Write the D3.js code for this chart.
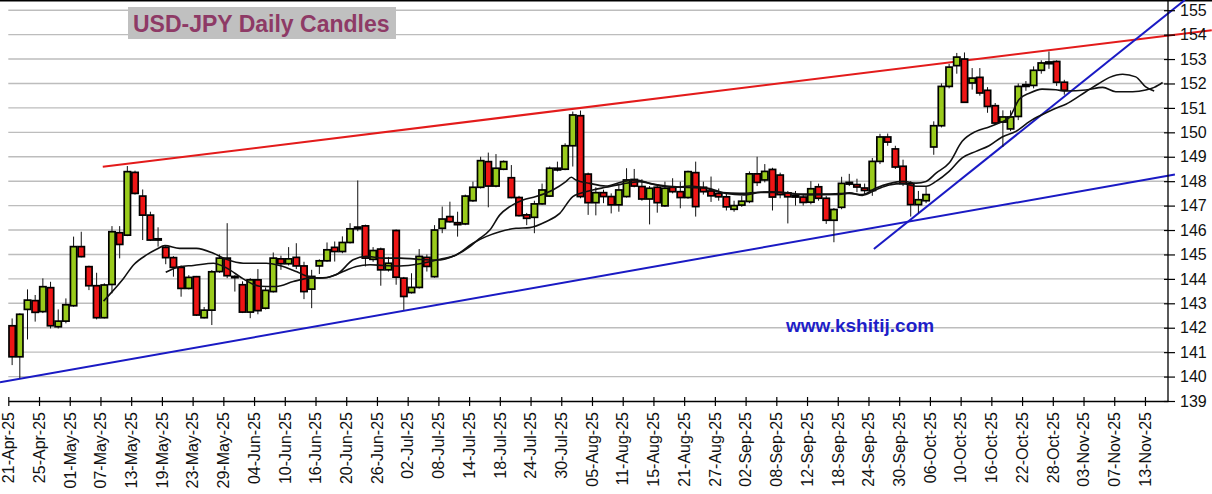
<!DOCTYPE html>
<html><head><meta charset="utf-8">
<script src="https://cdn.jsdelivr.net/npm/d3@7"></script>
<style>
html,body{margin:0;padding:0;background:#fff;}
svg{display:block;font-family:"Liberation Sans",Arial,sans-serif;}
</style></head>
<body>
<svg id="c" width="1212" height="494"></svg>
<script>
// ---------- DATA ----------
const tickLabels = ["21-Apr-25","25-Apr-25","01-May-25","07-May-25","13-May-25","19-May-25","23-May-25","29-May-25","04-Jun-25","10-Jun-25","16-Jun-25","20-Jun-25","26-Jun-25","02-Jul-25","08-Jul-25","14-Jul-25","18-Jul-25","24-Jul-25","30-Jul-25","05-Aug-25","11-Aug-25","15-Aug-25","21-Aug-25","27-Aug-25","02-Sep-25","08-Sep-25","12-Sep-25","18-Sep-25","24-Sep-25","30-Sep-25","06-Oct-25","10-Oct-25","16-Oct-25","22-Oct-25","28-Oct-25","03-Nov-25","07-Nov-25","13-Nov-25"];
const tickIndex = [0,4,8,12,16,20,24,28,32,36,40,44,48,52,56,60,64,68,72,76,80,84,88,92,96,100,104,108,112,116,120,124,128,132,136,140,144,148];
const priceTicks = [139,140,141,142,143,144,145,146,147,148,149,150,151,152,153,154,155];

const opens  = [142.08,140.81,142.75,143.11,142.66,143.64,142.04,142.27,142.90,145.32,144.50,143.72,142.41,143.77,145.89,145.79,148.36,147.39,146.61,145.64,145.29,144.87,144.47,143.61,144.09,142.41,142.72,144.30,144.85,144.10,143.76,142.64,143.96,142.80,143.48,144.82,144.62,144.88,144.53,143.58,144.53,144.74,145.29,145.12,145.49,146.05,146.17,144.80,145.22,144.37,145.98,144.03,143.44,143.65,144.88,144.09,146.07,146.55,146.30,146.25,147.20,147.75,148.80,147.80,148.49,148.14,147.33,146.62,146.52,147.07,147.39,148.46,148.49,149.45,150.68,148.29,147.12,147.53,147.37,147.03,147.37,148.07,147.78,147.27,147.75,146.99,147.75,147.57,147.33,148.35,147.75,147.60,147.50,147.36,146.85,147.02,147.17,148.30,148.05,148.48,148.25,147.52,147.42,147.35,147.14,147.77,147.30,146.40,146.93,147.88,147.86,147.72,147.62,148.81,149.81,149.32,148.61,147.90,147.04,147.20,149.40,150.27,151.88,152.73,153.00,152.02,152.25,151.72,151.09,150.42,150.14,150.65,151.88,151.92,152.54,152.81,152.90,152.05];
const highs  = [142.38,142.59,143.57,143.34,144.02,143.88,142.75,143.20,145.73,145.93,144.54,144.25,143.82,146.16,146.16,148.62,148.43,147.66,146.75,146.11,145.38,144.93,144.55,144.15,144.12,142.85,144.36,145.00,146.28,144.15,143.90,144.03,144.40,143.65,145.08,144.95,145.30,145.46,144.70,144.37,144.80,145.49,145.53,145.74,146.28,148.03,146.22,145.30,145.28,144.90,146.02,144.08,144.23,145.22,145.00,146.20,146.96,147.16,146.75,147.45,147.98,149.00,149.17,149.11,148.85,148.66,147.40,146.70,147.20,147.90,148.60,148.80,149.55,150.85,150.89,148.35,147.75,147.65,147.50,147.84,148.53,148.50,148.08,147.80,147.80,147.98,148.12,147.98,148.43,148.80,147.98,148.19,147.70,147.50,147.20,147.40,148.40,149.00,148.70,148.55,148.35,147.60,147.60,147.45,148.00,147.90,147.40,146.90,148.18,148.30,148.10,147.90,148.95,149.94,149.95,149.45,148.88,148.00,147.60,147.79,150.45,152.00,152.80,153.25,153.27,152.63,152.63,151.85,151.20,150.90,150.90,152.00,152.10,152.70,152.95,153.31,152.95,152.15];
const lows   = [140.47,139.93,141.52,142.25,142.60,141.97,141.97,142.18,142.86,144.88,143.54,142.34,142.38,143.41,144.84,145.75,147.45,145.59,145.55,145.32,144.60,144.09,143.27,143.57,142.48,142.38,142.11,144.25,144.03,143.48,142.60,142.39,142.55,142.75,143.44,144.37,144.55,144.40,143.17,142.80,144.20,144.70,144.71,145.05,145.45,145.95,144.51,144.70,143.72,144.30,143.76,142.73,143.40,143.60,144.30,144.05,145.87,146.30,145.73,146.20,147.15,147.70,146.93,147.75,148.45,147.30,146.55,146.20,145.87,147.03,147.35,148.40,148.45,148.60,147.30,146.62,146.60,147.10,146.68,146.75,147.33,147.75,147.20,146.23,146.71,146.95,147.50,146.89,147.28,146.55,147.45,147.15,147.20,146.80,146.75,146.95,147.10,147.80,147.95,146.80,147.30,146.27,147.00,147.00,147.05,147.20,146.25,145.50,146.85,147.80,147.55,147.45,147.40,148.70,149.45,148.50,147.80,146.55,146.70,147.10,149.08,150.20,151.80,152.40,151.20,151.75,151.50,150.80,150.30,149.40,150.05,150.50,151.70,151.80,152.40,152.60,151.90,151.54];
const closes = [140.81,142.55,143.13,142.63,143.68,142.08,142.27,142.94,145.32,144.91,143.72,142.41,143.75,145.93,145.41,148.39,147.50,146.61,145.59,145.59,144.87,144.47,143.61,144.06,142.52,142.72,144.29,144.85,144.13,144.05,142.64,143.96,142.70,143.53,144.85,144.62,144.82,144.53,143.48,144.10,144.74,145.19,145.12,145.49,146.05,146.12,144.85,145.16,144.37,144.64,144.07,143.28,143.65,144.92,144.51,146.00,146.45,146.34,146.22,147.39,147.75,148.84,147.80,148.53,148.80,147.33,146.59,146.48,147.07,147.64,148.53,148.53,149.45,150.71,147.37,147.12,147.53,147.37,147.03,147.64,148.05,147.80,147.27,147.71,147.12,147.71,147.57,147.33,148.39,146.96,147.57,147.40,147.36,146.95,147.00,147.18,148.30,147.95,148.40,147.35,147.45,147.36,147.35,147.13,147.69,147.30,146.40,146.84,147.91,147.95,147.76,147.62,148.81,149.81,149.60,148.58,147.90,147.04,147.24,147.45,150.27,151.88,152.67,153.08,151.23,152.22,151.61,151.06,150.38,150.63,150.63,151.88,151.95,152.54,152.84,152.88,152.05,151.72];

// moving averages: [candle index, price]
const maFast = [[11.9,143.09],[13.2,143.54],[14.5,144.02],[15.8,144.57],[17.5,144.98],[18.8,145.21],[19.9,145.36],[21.8,145.25],[24.0,145.25],[26.2,145.05],[27.9,144.80],[30.1,144.64],[33.1,144.64],[34.8,144.55],[37.0,144.30],[38.3,144.12],[40.1,144.03],[42.2,144.17],[44.4,144.78],[46.1,144.92],[48.3,144.85],[50.5,144.85],[52.6,144.81],[55.2,144.77],[57.8,144.98],[59.6,145.32],[60.6,145.59],[62.2,146.00],[63.5,146.62],[64.8,146.96],[66.5,147.23],[68.2,147.37],[70.4,147.64],[72.1,147.98],[72.8,148.16],[73.4,148.05],[75.2,147.91],[77.3,147.80],[79.5,147.98],[81.3,148.05],[83.0,147.91],[85.2,147.80],[87.3,147.75],[90.4,147.72],[92.9,147.50],[95.3,147.44],[97.5,147.54],[100.1,147.54],[102.7,147.47],[105.3,147.47],[109.0,147.50],[110.7,147.45],[112.5,147.72],[114.2,147.90],[116.0,147.99],[117.7,147.92],[119.0,147.99],[120.3,148.33],[122.0,148.74],[123.7,149.63],[125.5,150.04],[127.2,150.22],[128.5,150.38],[129.8,150.59],[131.1,151.34],[132.5,151.61],[134.1,151.77],[135.9,151.74],[137.2,151.69],[139.8,151.73],[142.0,151.84],[143.7,151.66],[145.9,151.66],[147.6,151.73],[148.7,151.84],[149.8,152.04]];
const maSlow = [[20.0,144.27],[21.8,144.50],[23.6,144.55],[26.2,144.64],[27.9,144.45],[30.1,144.00],[32.2,143.70],[34.4,143.69],[36.6,143.89],[38.7,144.03],[40.9,144.05],[43.1,144.30],[44.8,144.51],[46.6,144.58],[48.3,144.55],[50.5,144.53],[53.1,144.62],[55.7,144.80],[57.8,144.98],[60.0,145.46],[61.7,145.73],[63.5,145.93],[65.6,146.07],[67.4,146.10],[69.5,146.34],[71.3,146.68],[73.0,147.37],[73.9,147.50],[75.6,147.64],[77.3,147.75],[79.5,147.89],[81.7,147.98],[83.9,147.84],[86.1,147.75],[88.2,147.80],[90.3,147.71],[92.5,147.53],[94.7,147.50],[99.0,147.57],[103.3,147.44],[107.7,147.46],[109.0,147.52],[110.7,147.42],[112.5,147.65],[114.2,147.84],[116.0,147.90],[117.7,147.79],[119.0,147.79],[120.3,147.99],[122.0,148.40],[123.7,148.95],[125.5,149.22],[127.2,149.45],[128.9,149.81],[130.7,150.04],[132.5,150.45],[134.1,150.72],[135.9,150.99],[137.2,151.15],[139.8,151.66],[141.5,152.00],[142.9,152.25],[144.6,152.38],[146.3,152.27],[147.6,151.86],[148.7,151.69]];

// trend lines: [candle index, price]
const resistanceLine = [[11.8,148.59],[156.2,154.18]];
const supportLine    = [[-1.58,139.77],[151.4,148.27]];
const steepLine      = [[112.2,145.22],[152.7,155.42]];

// ---------- DRAW ----------
const svg = d3.select("#c");
const nSlots = 151;
const x = d3.scaleLinear().domain([-0.5, nSlots-0.5]).range([8.3, 1168]);
const y = d3.scaleLinear().domain([139,155]).range([401,10.2]);
const bw = x(1)-x(0);
const FONT = '"Liberation Sans",Arial,sans-serif';

// top frame line
svg.append("line").attr("x1",0).attr("x2",1212).attr("y1",0.75).attr("y2",0.75)
  .attr("stroke","#000").attr("stroke-width",1.5);

// gridlines
svg.append("g").selectAll("line").data(priceTicks.filter(d=>d>139)).join("line")
  .attr("x1",x(-0.5)).attr("x2",x(nSlots-0.5))
  .attr("y1",d=>y(d)).attr("y2",d=>y(d))
  .attr("stroke","#bdbdbd").attr("stroke-width",1.4);

// trend lines
const ln = d3.line().x(d=>x(d[0])).y(d=>y(d[1]));
svg.append("path").attr("d",ln(supportLine)).attr("stroke","#1a1ac4").attr("stroke-width",2).attr("fill","none");
svg.append("path").attr("d",ln(resistanceLine)).attr("stroke","#e31b1b").attr("stroke-width",2).attr("fill","none");
svg.append("path").attr("d",ln(steepLine)).attr("stroke","#1a1ac4").attr("stroke-width",2).attr("fill","none");

// candles
const candles = opens.map((o,i)=>({i,o,h:highs[i],l:lows[i],c:closes[i]}));
const cg = svg.append("g");
cg.selectAll("line").data(candles).join("line")
  .attr("x1",d=>x(d.i)).attr("x2",d=>x(d.i))
  .attr("y1",d=>y(d.h)).attr("y2",d=>y(d.l))
  .attr("stroke","#111").attr("stroke-width",1);
cg.selectAll("rect").data(candles).join("rect")
  .attr("x",d=>x(d.i)-bw*0.41).attr("width",bw*0.82)
  .attr("y",d=>y(Math.max(d.o,d.c)))
  .attr("height",d=>Math.max(1,y(Math.min(d.o,d.c))-y(Math.max(d.o,d.c))))
  .attr("fill",d=>d.c>=d.o?"#9acb1c":"#ee1515")
  .attr("stroke","#000").attr("stroke-width",1.7);

// moving averages
const mline = d3.line().x(d=>x(d[0])).y(d=>y(d[1])).curve(d3.curveMonotoneX);
svg.append("path").attr("d",mline(maSlow)).attr("stroke","#111").attr("stroke-width",1.6).attr("fill","none");
svg.append("path").attr("d",mline(maFast)).attr("stroke","#111").attr("stroke-width",1.6).attr("fill","none");

// x axis
const xAxis = d3.axisBottom(x).tickValues(tickIndex.map(i=>i-0.5)).tickFormat("").tickSizeOuter(0).tickSizeInner(5);
const gx = svg.append("g").attr("transform",`translate(0,${y(139)})`).call(xAxis);
gx.select(".domain").attr("stroke","#000").attr("stroke-width",1.3);
gx.selectAll(".tick line").attr("y1",-4).attr("y2",5).attr("stroke","#000").attr("stroke-width",1.2);
svg.append("g").selectAll("text").data(tickIndex).join("text")
  .attr("transform",(d)=>`translate(${x(d-0.5)},${y(139)+11}) rotate(-90)`)
  .attr("text-anchor","end").attr("dy","0.36em")
  .attr("font-family",FONT).attr("font-size",16).attr("fill","#111")
  .text((d,k)=>tickLabels[k]);

// y axis (right)
const yAxis = d3.axisRight(y).tickValues(priceTicks).tickFormat(d3.format("d")).tickSizeOuter(0).tickSizeInner(7).tickPadding(5);
const gy = svg.append("g").attr("transform",`translate(${x(nSlots-0.5)},0)`).call(yAxis);
gy.select(".domain").attr("d",`M0,0V${y(139)}`).attr("stroke","#000").attr("stroke-width",1.3);
gy.selectAll(".tick line").attr("x1",-4).attr("stroke","#000").attr("stroke-width",1.2);
gy.selectAll(".tick text").attr("font-family",FONT).attr("font-size",16).attr("fill","#111");

// title
svg.append("rect").attr("x",128).attr("y",7).attr("width",268).attr("height",32).attr("fill","#c0c0c0");
svg.append("text").attr("x",133).attr("y",32).attr("font-family",FONT).attr("font-weight","bold")
  .attr("font-size",23).attr("fill","#8e3a66").text("USD-JPY Daily Candles");

// watermark url
svg.append("text").attr("x",786).attr("y",332).attr("font-family",FONT).attr("font-weight","bold")
  .attr("font-size",19).attr("fill","#1e1ec8").text("www.kshitij.com");
</script>
</body></html>
